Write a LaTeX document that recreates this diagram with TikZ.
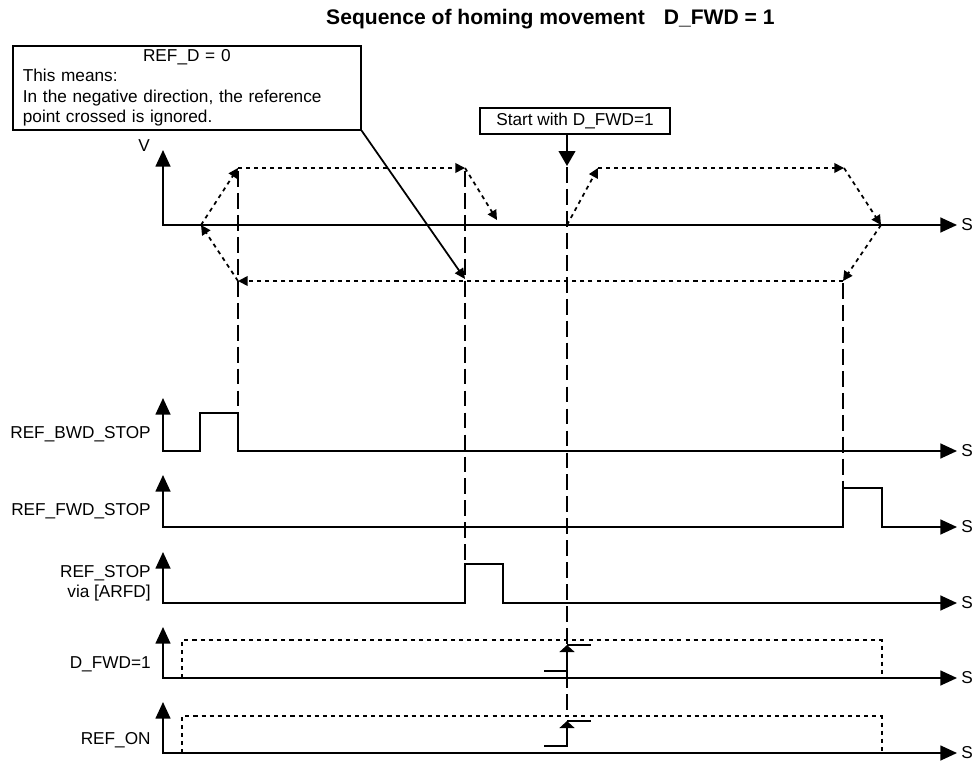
\documentclass[tikz,border=0pt]{standalone}
\usepackage{fontspec}
\setmainfont{Liberation Sans}
\usepackage{tikz}
\usetikzlibrary{arrows.meta}
\tikzset{
    sigaxis/.style={draw, line width=1pt, {Triangle[length=9.5pt,width=8.5pt]}-{Triangle[length=9.5pt,width=8.5pt]}}, % 坐标轴与信号线，两端带箭头
    motion/.style={draw, line width=1pt, dash pattern=on 2.3pt off 2.3pt, -{Triangle[length=5.5pt,width=5.5pt]}}, % 运动轨迹
    guide/.style={draw, line width=1pt, dash pattern=on 9pt off 3.5pt}, % 竖直参考虚线
    window/.style={draw, line width=1pt, dash pattern=on 2.3pt off 2.3pt}, % 信号有效区间
    rise/.style={draw, line width=1pt, -{Triangle[length=4pt,width=8.5pt]}}, % 上升沿
    pointer/.style={draw, line width=1pt, -{Triangle[length=6pt,width=5.5pt]}},
    startarrow/.style={draw, line width=1pt, -{Triangle[length=8.5pt,width=9.5pt]}},
    notebox/.style={draw, line width=1pt, anchor=north west, minimum width=6.96cm, minimum height=1.68cm, text width=6.56cm, inner xsep=0.2cm, inner ysep=0pt, align=left},
    startbox/.style={draw, line width=1pt, minimum width=3.8cm, minimum height=0.52cm, inner sep=0pt},
    siglabel/.style={anchor=base east, inner sep=0pt},
    slabel/.style={anchor=west, inner sep=0pt}
}

\begin{document}
\begin{tikzpicture}[x=0.02cm, y=-0.02cm, font=\fontsize{9.8}{11.5}\selectfont]
	\useasboundingbox (0,0) rectangle (972,760);

	\node (title) [anchor=base west, font=\bfseries\fontsize{12}{14}\selectfont] at (320,25) {Sequence of homing movement\hspace{0.9em}D\_FWD = 1};

	\node (note) [notebox] at (12,45) {{\centering REF\_D = 0\par}\raggedright This means:\\In the negative direction, the reference\\point crossed is ignored.};
	\node (start) [startbox] at (575,121) {Start with D\_FWD=1};

	% V over S
	\draw[sigaxis] (163,150) -- (163,225) -- (957,225);
	\node (vlab) [anchor=base] at (144,152) {V};
	\node (s0) [slabel] at (961,225) {S};

	\coordinate (m0) at (567,225);
	\coordinate (m1) at (598,168);
	\coordinate (m2) at (844,168);
	\coordinate (m3) at (881,225);
	\coordinate (m4) at (843,281);
	\coordinate (m5) at (238,281);
	\coordinate (m6) at (201,225);
	\coordinate (m7) at (238,168);
	\coordinate (m8) at (465,168);
	\coordinate (m9) at (497,220);

	\draw[motion] (m0) -- (m1);
	\draw[motion] (m1) -- (m2);
	\draw[motion] (m2) -- (m3);
	\draw[motion] (m3) -- (m4);
	\draw[motion] (m4) -- (m5);
	\draw[motion] (m5) -- (m6);
	\draw[motion] (m6) -- (m7);
	\draw[motion] (m7) -- (m8);
	\draw[motion] (m8) -- (m9);

	\coordinate (go) at (567,166);
	\coordinate (hit) at (465,279);
	\draw[startarrow] (start.south -| go) -- (go);
	\draw[pointer] (note.south east) -- (hit);

	% REF_BWD_STOP
	\draw[sigaxis] (163,398) -- (163,451) -- (200,451) -- (200,413) -- (238,413) -- (238,451) -- (957,451);
	\node (bwd) [siglabel] at (151,438) {REF\_BWD\_STOP};
	\node (s1) [slabel] at (961,451) {S};

	% REF_FWD_STOP
	\draw[sigaxis] (163,475) -- (163,527) -- (843,527) -- (843,488) -- (882,488) -- (882,527) -- (957,527);
	\node (fwd) [siglabel] at (151,515) {REF\_FWD\_STOP};
	\node (s2) [slabel] at (961,527) {S};

	% REF_STOP
	\draw[sigaxis] (163,552) -- (163,603) -- (465,603) -- (465,564) -- (503,564) -- (503,603) -- (957,603);
	\node (stop) [anchor=east, inner sep=0pt, align=right] at (151,583) {REF\_STOP\\via [ARFD]};
	\node (s3) [slabel] at (961,603) {S};

	% D_FWD=1
	\draw[sigaxis] (163,627) -- (163,678) -- (957,678);
	\draw[window] (182,678) -- (182,640) -- (882,640) -- (882,678);
	\draw[rise] (544,671) -| (567,645);
	\draw[line width=1pt] (567,645) -- (591,645);
	\node (dfwd) [siglabel] at (151,668) {D\_FWD=1};
	\node (s4) [slabel] at (961,678) {S};

	% REF_ON
	\draw[sigaxis] (163,702) -- (163,753) -- (957,753);
	\draw[window] (182,753) -- (182,716) -- (882,716) -- (882,753);
	\draw[rise] (544,746) -| (567,721);
	\draw[line width=1pt] (567,721) -- (591,721);
	\node (refon) [siglabel] at (151,744) {REF\_ON};
	\node (s5) [slabel] at (961,753) {S};

	% dashed guides
	\draw[guide] (238,171) -- (238,413);
	\draw[guide] (465,171) -- (465,564);
	\draw[guide] (567,167) -- (567,712);
	\draw[guide] (843,283) -- (843,488);
\end{tikzpicture}
\end{document}
